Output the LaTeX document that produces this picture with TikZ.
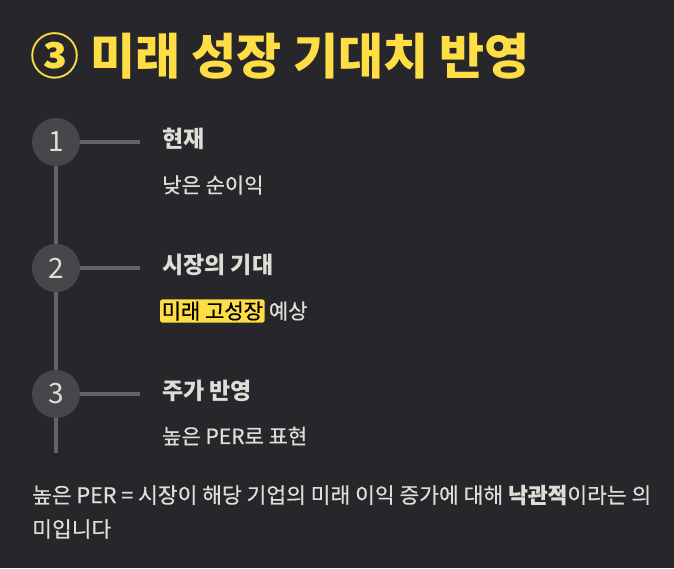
\documentclass[tikz,border=0pt]{standalone}
\usepackage{fontspec}
\setmainfont{Noto Sans CJK KR}
\newfontfamily\krmed[FakeBold=0.5]{Noto Sans CJK KR}
\usetikzlibrary{positioning}
\definecolor{bgdark}{RGB}{38,38,43}
\definecolor{titleyellow}{RGB}{255,221,68}
\definecolor{stepgray}{RGB}{70,70,75}
\definecolor{linegray}{RGB}{98,98,104}
\definecolor{textlight}{RGB}{222,222,214}
\tikzset{
  stepcircle/.style={circle,fill=stepgray,minimum size=48pt,inner sep=0pt,
    text=textlight,font=\fontsize{28}{28}\selectfont},
  stepline/.style={draw=linegray,line width=3.2pt},
  heading/.style={anchor=west,inner sep=0pt,text=textlight,font=\fontsize{23}{26}\selectfont\bfseries},
  subtext/.style={anchor=west,inner sep=0pt,text=textlight,font=\fontsize{21}{24}\krmed},
  marker/.style={fill=titleyellow,rounded corners=2pt,inner xsep=1.5pt,inner ysep=2pt,
    text=black,font=\fontsize{21}{24}\krmed}
}
\begin{document}
\begin{tikzpicture}[x=1pt,y=-1pt]
\fill[bgdark] (0,0) rectangle (674,568);
\useasboundingbox (0,0) rectangle (674,568);
% title
\node[anchor=west,inner sep=0pt,text=titleyellow,font=\fontsize{49}{54}\selectfont\bfseries]
  (title) at (30,56) {③ 미래 성장 기대치 반영};
% steps
\node[stepcircle] (s1) at (56,142) {1};
\node[stepcircle] (s2) at (56,268) {2};
\node[stepcircle] (s3) at (56,394) {3};
\coordinate (t1) at (140,142);
\coordinate (t2) at (140,268);
\coordinate (t3) at (140,394);
\coordinate (tail) at (56,453);
\draw[stepline] (s1.east) -- (t1);
\draw[stepline] (s2.east) -- (t2);
\draw[stepline] (s3.east) -- (t3);
\draw[stepline] (s1.south) -- (s2.north);
\draw[stepline] (s2.south) -- (s3.north);
\draw[stepline] (s3.south) -- (tail);
% texts
\node[heading] (h1) at (162,139) {현재};
\node[subtext] (b1) at (162,185) {낮은 순이익};
\node[heading] (h2) at (162,265) {시장의 기대};
\node[marker,anchor=west] (m2) at (160,311) {미래 고성장};
\node[subtext,right=4pt of m2] (b2) {예상};
\node[heading] (h3) at (162,391) {주가 반영};
\node[subtext] (b3) at (162,436) {높은 PER로 표현};
% note
\node[subtext,font=\fontsize{21.5}{24}\krmed] (n1) at (32,495) {높은 PER = 시장이 해당 기업의 미래 이익 증가에 대해 {\bfseries 낙관적}이라는 의};
\node[subtext,font=\fontsize{21.5}{24}\krmed] (n2) at (32,529) {미입니다};
\end{tikzpicture}
\end{document}
